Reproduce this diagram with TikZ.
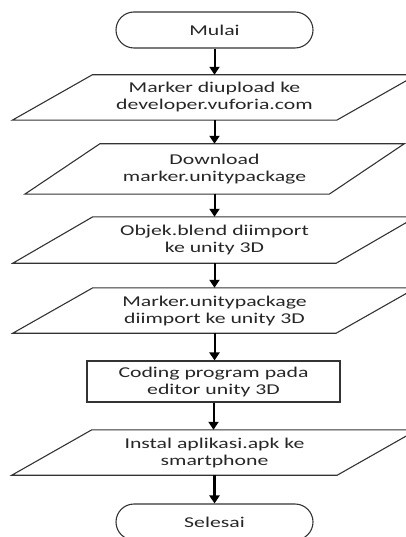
\documentclass[tikz,border=0pt]{standalone}
\usepackage{fontspec}
\setmainfont{Carlito}[FakeStretch=1.45]
\usetikzlibrary{arrows.meta,positioning}

\begin{document}
\begin{tikzpicture}[x=1pt, y=-1pt,
    box/.style={align=center, font=\fontsize{15}{17}\selectfont, inner sep=0pt, text=black!85},
    term/.style={box, draw=black!80, line width=1.1pt, rounded corners=18pt, minimum width=197pt, minimum height=36pt},
    io/.style={box, minimum height=45pt},
    proc/.style={box, draw=black!80, line width=1.1pt, minimum width=253pt, minimum height=41pt},
    flow/.style={-{Triangle[width=10pt,length=8pt]}, line width=2pt}]
    \useasboundingbox (0,0) rectangle (406,537);

    \node[term] (mulai) at (214.5,30) {Mulai};
    \node[io, minimum width=244pt] (upload) at (214.5,97.5) {Marker diupload ke\\developer.vuforia.com};
    \node[io, minimum width=229pt, minimum height=50pt] (download) at (214.5,169) {Download\\marker.unitypackage};
    \node[io, minimum width=243pt, minimum height=46pt] (objek) at (214.5,240) {Objek.blend diimport\\ke unity 3D};
    \node[io, minimum width=243pt] (marker) at (214.5,310.5) {Marker.unitypackage\\diimport ke unity 3D};
    \node[proc] (coding) at (213.5,381.5) {Coding program pada\\editor unity 3D};
    \node[io, minimum width=245pt] (instal) at (214.5,452.5) {Instal aplikasi.apk ke\\smartphone};
    \node[term] (selesai) at (214.5,522) {Selesai};

    % parallelogram outlines
    \foreach \n/\s in {upload/80, download/75, objek/80, marker/80, instal/80}
        \draw[draw=black!80, line width=1.1pt] (\n.north west) -- ([xshift=\s]\n.north east)
            -- (\n.south east) -- ([xshift=-\s]\n.south west) -- cycle;

    % arrows
    \foreach \a/\b in {mulai/upload, upload/download, download/objek, objek/marker, marker/coding, coding/instal}
        \draw[flow] (\a.south) -- (\a.south |- \b.north);
    \draw[flow, line width=2.6pt] (instal.south) -- (instal.south |- selesai.north);
\end{tikzpicture}
\end{document}
